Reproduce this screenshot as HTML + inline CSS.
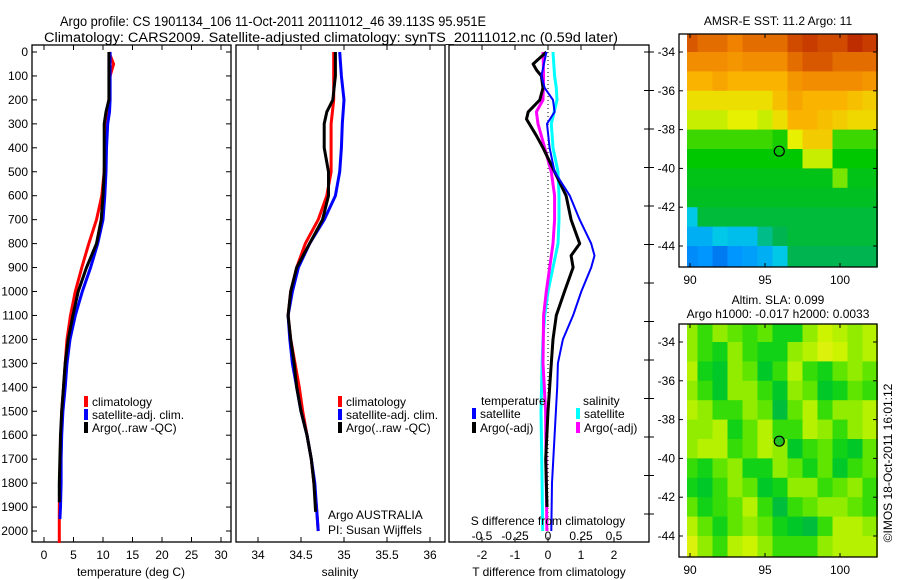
<!DOCTYPE html>
<html><head><meta charset="utf-8"><style>
html,body{margin:0;padding:0;background:#fff;}
svg{display:block;font-family:"Liberation Sans",sans-serif;}
text{fill:#000;}
</style></head><body>
<svg id="chart" width="900" height="580" viewBox="0 0 900 580" xmlns="http://www.w3.org/2000/svg">
<text x="60" y="26" font-size="13.5" textLength="426" lengthAdjust="spacingAndGlyphs">Argo profile: CS 1901134_106 11-Oct-2011 20111012_46 39.113S 95.951E</text>
<text x="44" y="42" font-size="13.5" textLength="574" lengthAdjust="spacingAndGlyphs">Climatology: CARS2009. Satellite-adjusted climatology: synTS_20111012.nc (0.59d later)</text>
<g id="g"></g>
</svg>
<script>
// ---- depth axis ----
const depthTicks = [0,100,200,300,400,500,600,700,800,900,1000,1100,1200,1300,1400,1500,1600,1700,1800,1900,2000];
// ---- temperature panel ----
const tTicks = [0,5,10,15,20,25,30];
const climDepth = [0,50,100,200,250,300,400,500,600,700,800,900,1000,1100,1200,1300,1400,1500,1600,1700,1800,1900,2000,2050];
const climT = [11,11.8,11.2,11,10.7,10.5,10.3,10.2,9.8,8.9,7.6,6.4,5.3,4.5,3.9,3.6,3.3,3.0,2.9,2.8,2.7,2.6,2.6,2.6];
const satDepth = [0,100,200,250,300,400,500,600,700,800,900,1000,1100,1200,1300,1400,1500,1600,1700,1800,1900,1950];
const satT = [11.2,11.2,11.2,11.1,10.8,10.6,10.5,10.3,10,9.1,7.9,6.5,5.3,4.4,3.9,3.6,3.2,3.0,2.9,2.9,2.8,2.7];
const argoDepth = [0,100,200,250,300,400,500,600,700,800,900,1000,1100,1200,1300,1400,1500,1600,1700,1800,1880];
const argoT = [11,11,11,10.5,10.2,10.2,10.2,10,9.7,8.9,7.2,5.8,4.9,4.1,3.6,3.3,3.0,2.8,2.7,2.6,2.6];
// ---- salinity panel ----
const sTicks = [34,34.5,35,35.5,36];
const sTickLabels = ['34','34.5','35','35.5','36'];
const climSDepth = [0,100,200,300,400,500,600,700,800,900,1000,1100,1200,1300,1400,1500,1600,1700,1800,1900,2000];
const climS = [34.88,34.88,34.88,34.85,34.85,34.85,34.8,34.7,34.55,34.45,34.38,34.35,34.38,34.43,34.48,34.52,34.57,34.62,34.65,34.68,34.7];
const satS = [34.95,34.97,35.0,34.98,34.97,34.95,34.9,34.77,34.6,34.47,34.4,34.35,34.37,34.4,34.45,34.5,34.57,34.62,34.66,34.68,34.7];
const argoSDepth = [0,100,200,250,300,400,500,600,700,800,900,1000,1100,1200,1300,1400,1500,1600,1700,1800,1920];
const argoS = [34.9,34.9,34.87,34.8,34.77,34.77,34.82,34.82,34.75,34.6,34.45,34.38,34.35,34.38,34.42,34.45,34.5,34.57,34.62,34.65,34.67];
// ---- difference panel ----
const dtTicks = [-2,-1,0,1,2];
const dsTicks = [-0.5,-0.25,0,0.25,0.5];
const dsTickLabels = ['-0.5','-0.25','0','0.25','0.5'];
const dSatTDepth = [0,100,150,200,250,300,400,500,600,700,800,850,900,1000,1100,1200,1300,1400,1600,1800,2000];
const dSatT = [-0.05,-0.2,-0.1,0.15,0.2,-0.03,0.05,0.2,0.66,0.96,1.31,1.41,1.31,1.01,0.76,0.45,0.3,0.28,0.2,0.12,0.1];
const dArgoTDepth = [0,50,75,100,150,200,250,280,350,400,500,600,700,800,850,900,1000,1100,1200,1300,1500,1700,1900];
const dArgoT = [-0.05,-0.45,-0.35,-0.2,-0.15,-0.25,-0.6,-0.65,-0.35,-0.15,0.2,0.55,0.7,0.96,0.7,0.76,0.5,0.25,0.15,0.1,0,-0.07,-0.03];
const dSatSDepth = [0,100,150,200,300,400,500,600,700,800,900,1000,1100,1200,1300,1500,1800,2000];
const dSatS = [0.038,0.05,0.063,0.068,0.025,0.038,0.076,0.083,0.083,0.076,0.038,0,-0.025,-0.038,-0.045,-0.053,-0.045,-0.04];
const dArgoSDepth = [0,100,200,250,300,400,500,600,700,800,900,1000,1100,1300,1500,1800,2000];
const dArgoS = [-0.038,-0.033,-0.038,-0.088,-0.076,-0.025,0.025,0.05,0.05,0.038,0.013,-0.013,-0.033,-0.038,-0.018,-0.013,-0.008];
// ---- maps ----
const lonTicks = [90,95,100];
const latTicks = [-34,-36,-38,-40,-42,-44];
const sstGrid = [
[.88,.85,.85,.82,.85,.85,.85,.9,.92,.9,.9,.95,.92],
[.8,.8,.8,.78,.8,.8,.8,.85,.88,.88,.85,.85,.85],
[.72,.72,.75,.72,.72,.72,.72,.78,.8,.8,.8,.8,.78],
[.65,.65,.65,.65,.65,.65,.7,.75,.72,.72,.72,.7,.68],
[.6,.6,.6,.62,.62,.6,.65,.72,.72,.7,.68,.66,.66],
[.5,.5,.5,.5,.5,.5,.47,.62,.68,.68,.5,.5,.5],
[.45,.45,.45,.45,.45,.45,.45,.45,.6,.6,.45,.45,.45],
[.43,.43,.43,.43,.43,.43,.43,.43,.43,.43,.55,.43,.43],
[.42,.42,.42,.42,.42,.42,.42,.42,.42,.42,.42,.42,.42],
[.3,.4,.4,.4,.4,.4,.4,.4,.4,.4,.4,.4,.4],
[.25,.25,.3,.28,.28,.35,.38,.4,.4,.4,.4,.4,.4],
[.18,.2,.15,.2,.22,.25,.3,.38,.38,.38,.38,.38,.38]];
const slaGrid = [
[.6,.4,.6,.5,.4,.5,.3,.3,.6,.8,.7,.6,.7],
[.6,.4,.3,.6,.4,.3,.3,.6,.7,.9,.8,.6,.7],
[.7,.3,.2,.6,.5,.2,.4,.7,.4,.3,.5,.6,.5],
[.6,.4,.2,.6,.6,.4,.2,.6,.5,.2,.3,.5,.4],
[.7,.6,.4,.4,.6,.5,.1,.5,.7,.4,.6,.6,.7],
[.6,.6,.7,.3,.5,.7,.4,.4,.7,.6,.4,.6,.7],
[.6,.7,.7,.4,.5,.7,.6,.2,.4,.5,.3,.2,.5],
[.4,.3,.5,.6,.3,.3,.6,.5,.3,.5,.2,.4,.5],
[.3,.2,.4,.6,.5,.2,.3,.6,.6,.4,.5,.6,.4],
[.5,.3,.4,.5,.7,.4,.1,.4,.5,.6,.6,.5,.4],
[.7,.5,.3,.5,.6,.5,.3,.2,.1,.4,.7,.7,.6],
[.9,.6,.4,.7,.8,.6,.4,.4,.4,.6,.7,.7,.7]];
const argoLon = 95.951, argoLat = -39.113;

const NS='http://www.w3.org/2000/svg';
const G=document.getElementById('g');
function mk(tag,attrs,parent){const e=document.createElementNS(NS,tag);for(const k in attrs)e.setAttribute(k,attrs[k]);(parent||G).appendChild(e);return e;}
function txt(x,y,s,anchor,size,parent){const e=mk('text',{x:x,y:y,'font-size':size||12,'text-anchor':anchor||'start'},parent);e.textContent=s;return e;}

const yTop=52, pxPerM=(531-52)/2000, yBot=542;
const yD=d=>yTop+d*pxPerM;
const xT=v=>44+v*5.9;
const xS=v=>258+(v-34)*86;
const xDT=v=>548+v*33;
const xDS=v=>548+v*132;

function panel(name,x0,x1){
  const g=mk('g',{});
  
  
  mk('rect',{x:x0,y:45,width:x1-x0,height:yBot-45,fill:'none',stroke:'#000','stroke-width':1.3},g);
  return g;
}
function line(g,name,xs,ds,fx,color,w,extra){
  const p=mk('polyline',Object.assign({points:xs.map((v,i)=>fx(v).toFixed(1)+','+yD(ds[i]).toFixed(1)).join(' '),fill:'none',stroke:color,'stroke-width':w,'stroke-linejoin':'round'},extra||{}),g);
  
  
}
function xticks(g,vals,labels,fx,ylab){
  vals.forEach((v,i)=>{const x=fx(v);
    mk('line',{x1:x,y1:yBot,x2:x,y2:yBot-5,stroke:'#000'},g);
    mk('line',{x1:x,y1:45,x2:x,y2:50,stroke:'#000'},g);
    txt(x,ylab,labels[i],'middle',12,g);});
}
function legendEntry(g,x,y,color,label){
  mk('rect',{x:x,y:y-10,width:4,height:11,fill:color},g);
  const t=txt(x+8,y,label,'start',12,g);
  
  
}

// Panel 1
const p1=panel('temperature-panel',32,231);
depthTicks.forEach(d=>{const y=yD(d);mk('line',{x1:32,y1:y,x2:37,y2:y,stroke:'#000'},p1);mk('line',{x1:226,y1:y,x2:231,y2:y,stroke:'#000'},p1);txt(28,y+4,String(d),'end',12,p1);});
xticks(p1,tTicks,tTicks.map(String),xT,559);
txt(131,576,'temperature (deg C)','middle',12,p1);
line(p1,'climatology-temperature',climT,climDepth,xT,'#ff0000',3);
line(p1,'satellite-temperature',satT,satDepth,xT,'#0000ff',3);
line(p1,'argo-temperature',argoT,argoDepth,xT,'#000000',3);
legendEntry(p1,84,406,'#ff0000','climatology');
legendEntry(p1,84,419,'#0000ff','satellite-adj. clim.');
legendEntry(p1,84,432,'#000000','Argo(..raw -QC)');

// Panel 2
const p2=panel('salinity-panel',236,445);
xticks(p2,sTicks,sTickLabels,xS,559);
txt(340,576,'salinity','middle',12,p2);
line(p2,'climatology-salinity',climS,climSDepth,xS,'#ff0000',3);
line(p2,'satellite-salinity',satS,climSDepth,xS,'#0000ff',3);
line(p2,'argo-salinity',argoS,argoSDepth,xS,'#000000',3);
legendEntry(p2,338,406,'#ff0000','climatology');
legendEntry(p2,338,419,'#0000ff','satellite-adj. clim.');
legendEntry(p2,338,432,'#000000','Argo(..raw -QC)');
txt(328,519,'Argo AUSTRALIA','start',12,p2);
txt(328,534,'PI: Susan Wijffels','start',12,p2);

// Panel 3
const p3=panel('difference-panel',449,649);
xticks(p3,dtTicks,dtTicks.map(String),xDT,559);
for(let y=52;y<yBot;y+=38.5){mk('line',{x1:644,y1:y,x2:649,y2:y,stroke:'#000'},p3);mk('line',{x1:649,y1:y,x2:654,y2:y,stroke:'#000'},p3);}
txt(549,576,'T difference from climatology','middle',12,p3);
mk('line',{x1:548,y1:yD(0),x2:548,y2:yD(2000),stroke:'#000','stroke-dasharray':'1,3'},p3);
line(p3,'satellite-s-diff',dSatS,dSatSDepth,xDS,'#00ffff',3);
line(p3,'argo-s-diff',dArgoS,dArgoSDepth,xDS,'#ff00ff',3);
line(p3,'argo-t-diff',dArgoT,dArgoTDepth,xDT,'#000000',3);
line(p3,'satellite-t-diff',dSatT,dSatTDepth,xDT,'#0000ff',2);
txt(481,405,'temperature','start',12,p3);
legendEntry(p3,472,418,'#0000ff','satellite');
legendEntry(p3,472,432,'#000000','Argo(-adj)');
txt(583,405,'salinity','start',12,p3);
legendEntry(p3,576,418,'#00ffff','satellite');
legendEntry(p3,576,432,'#ff00ff','Argo(-adj)');
txt(548,525,'S difference from climatology','middle',12,p3);
dsTicks.forEach((v,i)=>txt(xDS(v),540,dsTickLabels[i],'middle',12,p3));

// Maps
function lerpCol(stops,v){
  v=Math.max(0,Math.min(1,v));
  for(let i=1;i<stops.length;i++){if(v<=stops[i][0]){const a=stops[i-1],b=stops[i],t=(v-a[0])/(b[0]-a[0]);
    return 'rgb('+[1,2,3].map(k=>Math.round(a[k]+(b[k]-a[k])*t)).join(',')+')';}}
  const l=stops[stops.length-1];return 'rgb('+l[1]+','+l[2]+','+l[3]+')';
}
const sstStops=[[0,0,40,200],[0.2,0,150,255],[0.3,0,200,230],[0.38,0,180,80],[0.45,0,200,0],[0.55,120,230,0],[0.62,230,240,0],[0.72,250,180,0],[0.82,240,130,0],[0.92,200,60,0],[1,170,20,0]];
const slaStops=[[0,0,180,80],[0.25,0,205,30],[0.45,70,225,0],[0.65,170,240,0],[0.85,215,245,0],[1,230,235,40]];
function map(name,grid,stops,boxTop,latTop,pxLat,title1,title2){
  const g=mk('g',{});
  
  
  const lonX=l=>690+(l-90)*15, latY=l=>latTop+(-34-l)*pxLat;
  const x0=679,x1=877,yb=boxTop+233;
  mk('rect',{x:x0,y:boxTop,width:x1-x0,height:yb-boxTop,fill:'#fff'},g);
  grid.forEach((row,r)=>row.forEach((v,c)=>{
    const lon0=Math.max(89.8,89.5+c), lon1=Math.min(102.5,90.5+c);
    const la0=Math.min(-33.1,-33+(-r)), la1=Math.max(-45.1,-34-r);
    const ya=Math.max(boxTop,latY(la0)), yb2=(r===grid.length-1)?yb:latY(la1);
    const cell=mk('rect',{x:lonX(lon0),y:ya,width:lonX(lon1)-lonX(lon0)+0.5,height:yb2-ya+0.5,fill:lerpCol(stops,v)},g);
    
    
  }));
  mk('rect',{x:x0,y:boxTop,width:x1-x0,height:yb-boxTop,fill:'none',stroke:'#000','stroke-width':1.3},g);
  lonTicks.forEach(l=>{const x=lonX(l);mk('line',{x1:x,y1:yb,x2:x,y2:yb-4,stroke:'#000'},g);mk('line',{x1:x,y1:boxTop,x2:x,y2:boxTop+4,stroke:'#000'},g);txt(x,yb+17,String(l),'middle',12,g);});
  latTicks.forEach(l=>{const y=latY(l);mk('line',{x1:x0,y1:y,x2:x0+4,y2:y,stroke:'#000'},g);mk('line',{x1:x1,y1:y,x2:x1-4,y2:y,stroke:'#000'},g);txt(675,y+4,String(l),'end',12,g);});
  const m=mk('circle',{cx:lonX(argoLon),cy:latY(argoLat),r:5,fill:name==='sla-map'?'#20c020':'none',stroke:'#000','stroke-width':1.2},g);
  
  
  if(title2){txt(778,boxTop-20,title1,'middle',12,g);txt(778,boxTop-6,title2,'middle',12,g);}
  else txt(778,boxTop-9,title1,'middle',12,g);
}
map('sst-map',sstGrid,sstStops,34,52,19.4,'AMSR-E SST: 11.2 Argo: 11');
map('sla-map',slaGrid,slaStops,324,342,19.4,'Altim. SLA: 0.099','Argo h1000: -0.017 h2000: 0.0033');
const cr=txt(0,0,'©IMOS 18-Oct-2011 16:01:12','middle',12);
cr.setAttribute('transform','translate(892,463) rotate(-90)');


</script>
</body></html>
